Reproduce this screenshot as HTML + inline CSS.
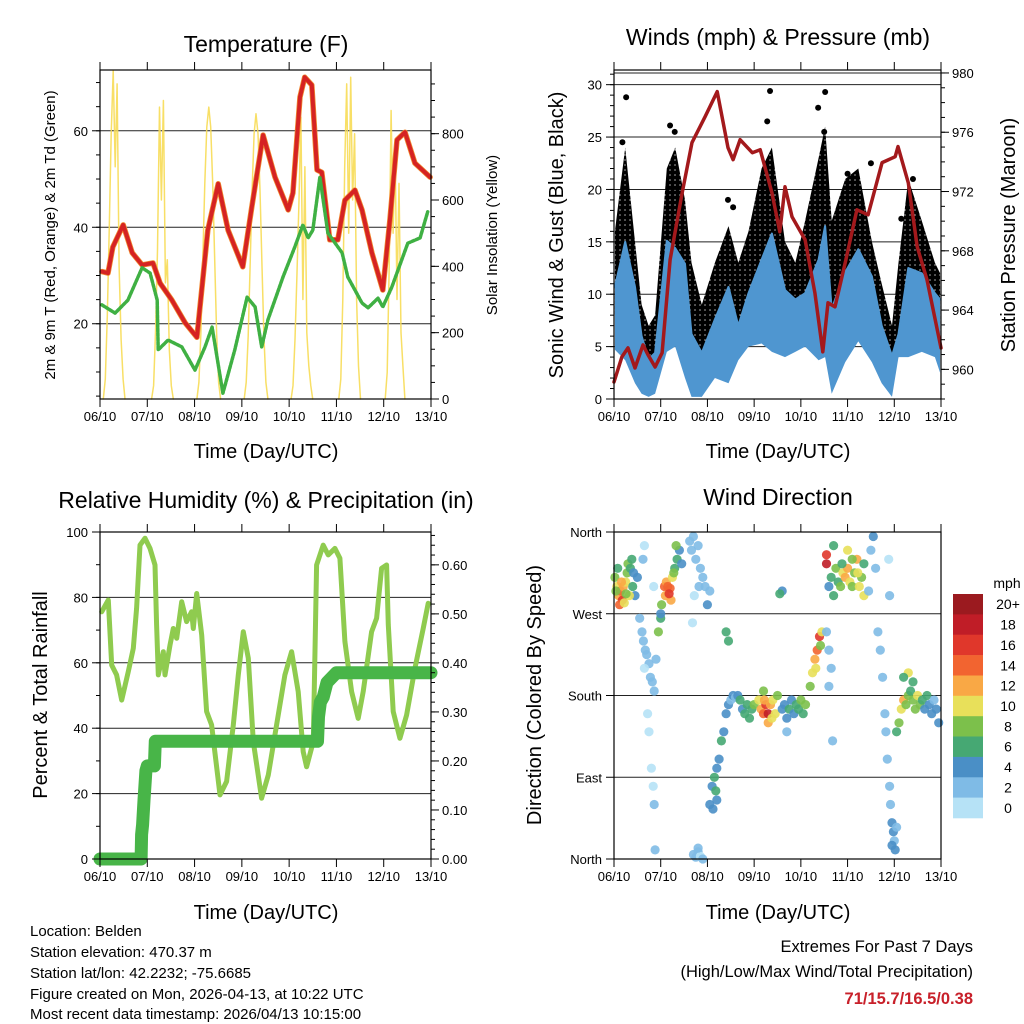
<!DOCTYPE html>
<html><head><meta charset="utf-8"><style>
html,body{margin:0;padding:0;background:#fff;}
svg{display:block;font-family:"Liberation Sans",Arial,sans-serif;}
</style></head><body>
<svg id="chart" xmlns="http://www.w3.org/2000/svg" width="1024" height="1024" viewBox="0 0 1024 1024">
<defs>
<pattern id="gustdots" width="5" height="5" patternUnits="userSpaceOnUse"><circle cx="2.5" cy="2.5" r="3" fill="#000"/></pattern>
</defs>
<g font-size="23" text-anchor="middle" fill="#000">
<text x="266" y="52">Temperature (F)</text>
<text x="778" y="45">Winds (mph) &amp; Pressure (mb)</text>
<text x="266" y="508">Relative Humidity (%) &amp; Precipitation (in)</text>
<text x="778" y="505">Wind Direction</text>
</g>
<g font-size="20" text-anchor="middle" fill="#000">
<text x="266" y="458">Time (Day/UTC)</text>
<text x="778" y="458">Time (Day/UTC)</text>
<text x="266" y="919">Time (Day/UTC)</text>
<text x="778" y="919">Time (Day/UTC)</text>
<text font-size="15" transform="translate(55,235) rotate(-90)">2m &amp; 9m T (Red, Orange) &amp; 2m Td (Green)</text>
<text font-size="15" transform="translate(497,235) rotate(-90)">Solar Insolation (Yellow)</text>
<text transform="translate(563,235) rotate(-90)">Sonic Wind &amp; Gust (Blue, Black)</text>
<text transform="translate(1015,235) rotate(-90)">Station Pressure (Maroon)</text>
<text transform="translate(47,695) rotate(-90)">Percent &amp; Total Rainfall</text>
<text transform="translate(541,695) rotate(-90)">Direction (Colored By Speed)</text>
</g>
<g font-size="15" fill="#000">
<text x="30" y="936">Location: Belden</text>
<text x="30" y="957">Station elevation: 470.37 m</text>
<text x="30" y="978">Station lat/lon: 42.2232; -75.6685</text>
<text x="30" y="999">Figure created on Mon, 2026-04-13, at 10:22 UTC</text>
<text x="30" y="1019">Most recent data timestamp: 2026/04/13 10:15:00</text>
</g>
<g font-size="16.5" text-anchor="end" fill="#000">
<text x="973" y="952">Extremes For Past 7 Days</text>
<text x="973" y="977">(High/Low/Max Wind/Total Precipitation)</text>
<text x="973" y="1004" fill="#c8202a" font-weight="bold">71/15.7/16.5/0.38</text>
</g>
<g id="plots"></g>
</svg>
<script>
// ---------- DATA ----------
const dayLabels = ["06/10","07/10","08/10","09/10","10/10","11/10","12/10","13/10"];
// Temperature (F)
const tempDays = [0.04,0.17,0.27,0.49,0.68,0.89,1.12,1.27,1.52,1.80,2.05,2.28,2.50,2.71,3.02,3.21,3.45,3.70,3.98,4.08,4.23,4.33,4.48,4.59,4.69,4.86,5.03,5.18,5.39,5.54,5.75,5.98,6.13,6.28,6.45,6.66,6.98];
const tempVals = [30.8,30.5,35.9,40.5,34.7,32.2,32.6,28.4,24.9,20.2,17.2,39.4,49.0,39.4,31.8,44.2,59.1,50.4,43.6,47.1,67.0,71.1,69.5,51.9,51.4,37.4,37.4,45.6,47.7,43.6,34.7,27.0,41.5,58.1,59.7,53.3,50.4];
const dewDays = [0.04,0.32,0.59,0.89,1.06,1.21,1.23,1.44,1.73,2.01,2.22,2.37,2.60,2.85,3.11,3.28,3.42,3.55,3.87,4.12,4.29,4.40,4.50,4.65,4.82,5.12,5.24,5.54,5.67,5.88,5.98,6.17,6.51,6.77,6.93];
const dewVals = [23.9,22.2,24.9,31.6,30.5,24.9,14.6,16.6,15.2,10.4,15.2,19.3,5.6,14.6,25.5,23.5,15.2,20.8,29.7,35.9,40.5,37.8,39.4,50.4,38.8,34.7,29.7,24.3,23.3,25.3,23.5,27.6,36.7,37.8,43.2];
const solarPeaks = [0.30,1.32,2.30,3.30,4.27,5.28,6.24];
const solarDay0 = [0,60,250,520,800,990,700,950,400,180,60,0];
const solarDay1 = [0,40,200,450,880,600,900,350,420,150,40,0];
const solarDay2 = [0,50,200,420,650,820,880,820,650,420,200,50,0];
const solarDay3 = [0,50,190,400,630,800,860,800,630,400,190,50,0];
const solarDay4 = [0,40,180,380,600,850,300,700,200,100,40,0];
const solarDay5 = [0,60,300,700,950,500,970,600,800,300,100,0];
const solarDay6 = [0,80,400,870,500,750,300,650,200,100,0];
const tempTicks = [20,40,60];
const solarTicks = [0,200,400,600,800];
// Winds
const windDays = [0.02,0.24,0.45,0.59,0.74,0.88,1.13,1.31,1.52,1.66,1.88,2.16,2.45,2.66,2.88,3.16,3.38,3.66,3.88,4.09,4.38,4.52,4.66,4.95,5.23,5.52,5.73,5.95,6.09,6.30,6.59,6.87,6.98];
const windHi = [10.7,15,10.7,6,3.8,4.4,15.1,14.4,12.9,6.2,4.4,7.6,10.7,7,10.1,13.3,15.8,10.4,9.5,10.1,13.3,16.5,8.6,12.1,14.3,11.7,7,4.1,6.2,12.5,12,10.1,9.5];
const windLo = [4.7,3.7,1.5,0.5,0.2,0.5,4.5,5,2,0.2,0.2,2,1.5,3.7,5,5.3,4.5,4,4.5,5,3.7,4,0.5,3.5,5.5,3.5,1.5,0.2,4,4,4.5,4,2.5];
const gustHi = [16,24,15,9,7,8,22,24,19,13,9,13,16.5,13,16,22,24,15,13,17,23,26,17,21,22,15,11,7,13,21,17,13,12];
const gustLo = [8,11,7,4,3,3,11,12,8,3,2.5,5,7,5,7,10,12,7,6,7,10,11,6,8,10,8,4,2.5,4,9,9,7,6];
const gustOutDays = [0.26,0.18,1.20,1.30,2.44,2.55,3.34,3.28,4.37,4.52,4.50,5.0,5.5,6.15,6.4];
const gustOutVals = [28.8,24.5,26.1,25.5,19.0,18.3,29.4,26.5,27.8,29.3,25.5,21.5,22.5,17.2,21.0];
const presDays = [0,0.17,0.30,0.45,0.62,0.73,0.88,1.03,1.20,1.46,1.67,1.95,2.21,2.44,2.55,2.70,2.96,3.13,3.38,3.55,3.66,3.81,4.09,4.30,4.47,4.58,4.73,4.95,5.20,5.44,5.74,6.02,6.08,6.30,6.49,6.70,7.0];
const presVals = [959.15,960.84,961.45,960.09,961.65,960.97,960.16,961.11,967.39,971.92,975.30,977.05,978.74,974.96,974.15,975.50,974.62,974.82,971.92,969.28,972.32,970.30,968.74,965.16,961.18,964.49,964.22,967.19,970.77,970.43,973.95,974.35,975.03,972.59,968.27,966.04,961.45];
const windTicks = [0,5,10,15,20,25,30];
const presTicks = [960,964,968,972,976,980];
// Humidity & precipitation
const rhDays = [0.035,0.176,0.247,0.352,0.458,0.599,0.705,0.775,0.846,0.951,1.057,1.163,1.198,1.233,1.339,1.374,1.48,1.55,1.621,1.727,1.832,1.938,1.973,2.044,2.15,2.255,2.361,2.537,2.678,2.819,2.925,3.03,3.136,3.242,3.418,3.559,3.735,3.911,4.052,4.192,4.298,4.369,4.51,4.58,4.721,4.827,4.968,5.074,5.18,5.32,5.46,5.567,5.743,5.849,5.955,6.06,6.096,6.2,6.343,6.484,6.66,6.836,6.941];
const rhVals = [75.6,79.2,59.3,56.3,48.6,57.3,64.4,76.7,96.0,98.1,95,89.9,71.6,56.3,63.4,56.3,65.4,70.5,67.5,78.7,72.6,75.6,70.5,81.2,68.5,45.1,41.0,19.6,23.7,41.0,56.3,69.5,61.4,35.9,18.6,25.7,41,56.3,63.4,51.2,32.8,28.2,35.9,89.9,96,93,95,92,66.5,51.2,43,51.2,69.5,73.6,88.9,89.9,71.6,45.1,36.9,44,58.3,70.5,78.2];
const precDays = [0,0.87,0.88,0.90,0.93,0.97,1.0,1.15,1.17,4.60,4.62,4.66,4.72,4.80,5.0,7.0];
const precVals = [0,0,0.05,0.07,0.12,0.18,0.19,0.19,0.24,0.24,0.29,0.32,0.33,0.36,0.38,0.38];
const rhTicks = [0,20,40,60,80,100];
const precTicks = [0,0.1,0.2,0.3,0.4,0.5,0.6];
// Wind direction points [day, direction deg, speed mph]
const dirPoints = [
[0.02,310,8],[0.06,300,10],[0.1,290,12],[0.14,295,14],[0.18,285,16],[0.2,300,12],[0.25,305,10],[0.28,315,9],[0.3,325,8],[0.35,320,6],[0.4,300,6],[0.45,290,4],[0.5,310,4],[0.12,280,14],[0.22,282,11],[0.33,290,10],[0.08,320,7],[0.38,330,7],[0.16,305,13],[0.26,292,9],[0.04,295,9],[0.42,315,5],
[0.55,265,2],[0.6,250,3],[0.63,240,2],[0.67,230,2],[0.7,225,3],[0.75,215,2],[0.78,200,2],[0.82,195,3],[0.86,185,2],[0.65,210,1],[0.72,160,0],[0.75,140,1],[0.8,100,1],[0.84,80,1],[0.86,60,2],[0.88,10,3],[0.62,330,2],[0.65,345,1],[0.85,300,1],[0.9,220,3],
[0.95,250,8],[1.0,265,7],[1.02,280,9],[1.08,300,14],[1.12,305,13],[1.15,300,15],[1.2,298,14],[1.25,310,10],[1.3,320,7],[1.35,330,6],[1.4,340,5],[1.45,325,4],[1.1,290,12],[1.22,285,12],[1.0,270,5],[1.33,345,8],[1.18,292,16],[1.28,315,9],
[1.62,350,3],[1.66,340,2],[1.7,355,2],[1.75,330,3],[1.8,345,2],[1.85,320,2],[1.9,310,3],[1.95,300,2],[2.0,280,4],[1.72,290,1],[1.68,260,1],[2.05,295,3],[1.82,300,2],
[1.7,5,2],[1.75,2,3],[1.8,8,2],[1.85,3,1],[1.9,0,2],[1.8,12,2],
[2.05,60,4],[2.1,80,5],[2.15,90,6],[2.18,75,6],[2.2,100,4],[2.25,110,5],[2.3,130,6],[2.35,140,4],[2.4,160,4],[2.45,170,5],[2.5,175,3],[2.55,180,4],[2.6,178,3],[2.2,65,5],[2.12,55,4],
[2.65,180,4],[2.7,175,6],[2.75,165,4],[2.8,160,6],[2.85,170,7],[2.9,155,6],[2.95,165,6],[3.0,170,8],
[3.1,175,10],[3.15,165,12],[3.2,160,14],[3.25,170,16],[3.3,160,18],[3.35,170,12],[3.4,175,10],[3.45,160,11],[3.5,180,8],[3.2,185,9],[3.3,150,12],[3.22,175,13],[3.38,155,11],
[3.6,165,4],[3.65,170,5],[3.7,155,4],[3.75,165,6],[3.8,175,5],[3.85,160,4],[3.9,170,6],[3.95,165,7],[4.0,175,8],[4.05,160,7],[4.1,170,8],[3.7,140,3],
[4.2,190,8],[4.25,205,10],[4.3,220,12],[4.35,230,14],[4.4,245,16],[4.45,250,10],[4.32,210,11],[4.42,235,9],
[4.55,250,3],[4.6,230,3],[4.65,210,2],[4.6,190,2],[4.68,130,2],[3.6,295,4],[3.55,292,6],[2.45,240,6],[2.4,250,6],
[4.6,300,5],[4.65,310,6],[4.7,290,7],[4.75,320,8],[4.8,305,6],[4.85,300,9],[4.9,315,11],[4.95,310,12],[5.0,320,13],[5.05,305,10],[5.1,300,8],[5.15,315,9],[5.2,330,12],[5.25,300,11],[5.3,310,9],[5.35,325,7],[4.55,335,17],[4.55,325,18],[5.0,340,10],[5.1,330,8],[4.7,345,6],[5.35,290,10],[5.45,295,3],[5.5,340,3],[5.55,355,4],[5.6,320,2],[4.88,325,7],[5.22,315,10],
[5.65,250,2],[5.7,230,2],[5.75,200,2],[5.8,160,2],[5.82,140,3],[5.85,110,2],[5.9,80,2],[5.92,60,3],[5.95,40,4],[5.98,30,4],[6.0,20,3],[6.02,10,4],[5.9,290,2],[5.88,330,1],[5.95,15,5],[6.05,35,2],
[6.05,140,6],[6.1,150,8],[6.15,165,10],[6.2,175,12],[6.25,170,9],[6.3,180,8],[6.35,185,7],[6.4,175,9],[6.45,165,8],[6.5,180,10],[6.55,170,8],[6.6,175,6],[6.65,165,5],[6.7,180,7],[6.75,170,5],[6.8,160,4],[6.85,175,3],[6.9,165,4],[6.95,150,4],[6.3,205,10],[6.4,195,7],[6.2,200,6]
];
const dirTickVals = [0,90,180,270,360];
const dirTickLabels = ["North","East","South","West","North"];
const speedLabels = ["20+","18","16","14","12","10","8","6","4","2","0"];
const speedColors = ["#9b1a1f","#c01d27","#e0372b","#f26430","#f9a845","#e8e05a","#7cc04b","#46a873","#4a8fc6","#7fbbe6","#b6e2f6"];

// ---------- RENDER ----------
const NS = "http://www.w3.org/2000/svg";
const root = document.getElementById('plots');
function el(tag, parent){ const e = document.createElementNS(NS, tag); parent.appendChild(e); return e; }
function lin(d0,d1,r0,r1){ return v => r0 + (v-d0)/(d1-d0)*(r1-r0); }
function pathFrom(xs, ys, fx, fy){ return xs.map((t,i)=>(i?'L':'M')+fx(t).toFixed(1)+','+fy(ys[i]).toFixed(1)).join(''); }

const panels = [
 {name:'temperature', x0:100,x1:431,y0:70,y1:399},
 {name:'winds', x0:614,x1:941,y0:70,y1:399},
 {name:'humidity', x0:100,x1:431,y0:532,y1:859},
 {name:'direction', x0:614,x1:941,y0:532,y1:859}
];
panels.forEach(p=>{
  p.g = el('g', root);
  
  
  p.fx = lin(0,7,p.x0,p.x1);
});

function frame(p){
  const r = el('rect', p.g);
  
  
  r.setAttribute('x', p.x0); r.setAttribute('y', p.y0);
  r.setAttribute('width', p.x1-p.x0); r.setAttribute('height', p.y1-p.y0);
  r.setAttribute('fill','none'); r.setAttribute('stroke','#000'); r.setAttribute('stroke-width','1.2');
  dayLabels.forEach((lab,i)=>{
    const x = p.fx(i);
    [[p.y1,p.y1+8],[p.y0,p.y0-8]].forEach(([a,b])=>{
      const t = el('line', p.g);
      
      
      t.setAttribute('x1',x);t.setAttribute('x2',x);t.setAttribute('y1',a);t.setAttribute('y2',b);
      t.setAttribute('stroke','#000');t.setAttribute('stroke-width','1');
    });
    const tx = el('text', p.g);
    
    
    tx.setAttribute('x',x); tx.setAttribute('y',p.y1+22);
    tx.setAttribute('text-anchor','middle'); tx.setAttribute('font-size','13');
    tx.textContent = lab;
  });
}
function grid(p, vals, fy){
  vals.forEach(v=>{
    const y = fy(v); if (y<=p.y0+1 || y>=p.y1-1) return;
    const l = el('line', p.g);
    
    
    l.setAttribute('x1',p.x0);l.setAttribute('x2',p.x1);l.setAttribute('y1',y);l.setAttribute('y2',y);
    l.setAttribute('stroke','#222');l.setAttribute('stroke-width','1');
  });
}
function yAxis(p, vals, labels, fy, side, minorStep){
  vals.forEach((v,i)=>{
    const y = fy(v);
    const x = side==='left'?p.x0:p.x1;
    const d = side==='left'?-8:8;
    const t = el('line', p.g);
    
    
    t.setAttribute('x1',x);t.setAttribute('x2',x+d);t.setAttribute('y1',y);t.setAttribute('y2',y);
    t.setAttribute('stroke','#000');
    const tx = el('text', p.g);
    
    
    tx.setAttribute('x', side==='left'? x-12 : x+11);
    tx.setAttribute('y', y+5);
    tx.setAttribute('font-size','13');
    tx.setAttribute('text-anchor', side==='left'?'end':'start');
    tx.textContent = labels[i];
  });
  if (minorStep){
    const x = side==='left'?p.x0:p.x1; const d = side==='left'?-4:4;
    for (let v=vals[0]-minorStep*10; v<vals[vals.length-1]+minorStep*10; v+=minorStep){
      const y = fy(v); if (y<p.y0||y>p.y1) continue;
      const t = el('line', p.g);
      
      
      t.setAttribute('x1',x);t.setAttribute('x2',x+d);t.setAttribute('y1',y);t.setAttribute('y2',y);
      t.setAttribute('stroke','#000');
    }
  }
}
function line(p, name, xs, ys, fy, color, w, extra){
  const e = el('path', p.g);
  
  
  e.setAttribute('d', pathFrom(xs, ys, p.fx, fy));
  e.setAttribute('fill','none'); e.setAttribute('stroke',color); e.setAttribute('stroke-width',w);
  e.setAttribute('stroke-linejoin','round'); e.setAttribute('stroke-linecap','round');
  if (extra) for (const k in extra) e.setAttribute(k, extra[k]);
  return e;
}
function band(p, name, xs, hi, lo, fy, fill){
  const top = xs.map((t,i)=>(i?'L':'M')+p.fx(t).toFixed(1)+','+fy(hi[i]).toFixed(1)).join('');
  const bot = xs.slice().reverse().map((t,j)=>{const i=xs.length-1-j; return 'L'+p.fx(t).toFixed(1)+','+fy(lo[i]).toFixed(1);}).join('');
  const e = el('path', p.g);
  
  
  e.setAttribute('d', top+bot+'Z');
  e.setAttribute('fill', fill);
  return e;
}

// Panel 1: temperature
(function(){
  const p = panels[0];
  const fy = lin(4.4,72.6,p.y1,p.y0);
  const fs = lin(0,992,p.y1,p.y0);
  grid(p, tempTicks, fy);
  const solar = [solarDay0,solarDay1,solarDay2,solarDay3,solarDay4,solarDay5,solarDay6];
  solar.forEach((vals,k)=>{
    const c = (vals.length-1)/2;
    const days = vals.map((v,i)=>solarPeaks[k]+(i-c)/24);
    line(p,'solar-insolation-line-day'+k,days,vals,fs,'#f7dc55',1.5,{'stroke-opacity':'0.9'});
  });
  line(p,'temp-9m-orange-line',tempDays,tempVals,fy,'#f08a30',5.5);
  line(p,'temp-2m-red-line',tempDays,tempVals,fy,'#d52323',4);
  line(p,'dewpoint-green-line',dewDays,dewVals,fy,'#3fb043',3.5,{'stroke-dasharray':'3 1.5'});
  yAxis(p, tempTicks, tempTicks.map(String), fy, 'left', 5);
  yAxis(p, solarTicks, solarTicks.map(String), fs, 'right', 50);
  frame(p);
})();

// Panel 2: winds
(function(){
  const p = panels[1];
  const fy = lin(0,31.4,p.y1,p.y0);
  const fp = lin(958,980.2,p.y1,p.y0);
  grid(p, windTicks, fy);
  const gl = el('line', p.g);
  
  
  gl.setAttribute('x1',p.x0);gl.setAttribute('x2',p.x1);gl.setAttribute('y1',fp(980));gl.setAttribute('y2',fp(980));gl.setAttribute('stroke','#222');
  band(p,'gust-dots-band',windDays,gustHi,gustLo,fy,'url(#gustdots)');
  gustOutDays.forEach((t,i)=>{
    const c = el('circle', p.g);
    
    
    c.setAttribute('cx',p.fx(t)); c.setAttribute('cy',fy(gustOutVals[i])); c.setAttribute('r','3'); c.setAttribute('fill','#000');
  });
  band(p,'sonic-wind-band',windDays,windHi,windLo,fy,'#4f96d0');
  line(p,'sonic-wind-edge',windDays,windHi,fy,'#4f96d0',2);
  line(p,'station-pressure-line',presDays,presVals,fp,'#a3191c',3.5);
  yAxis(p, windTicks, windTicks.map(String), fy, 'left', 1);
  yAxis(p, presTicks, presTicks.map(String), fp, 'right', 1);
  frame(p);
})();

// Panel 3: humidity
(function(){
  const p = panels[2];
  const fy = lin(0,100,p.y1,p.y0);
  const fr = lin(0,0.667,p.y1,p.y0);
  grid(p, rhTicks, fy);
  line(p,'relative-humidity-line',rhDays,rhVals,fy,'#8fcb4f',5);
  line(p,'total-rainfall-line',precDays,precVals,fr,'#48b548',13);
  yAxis(p, rhTicks, rhTicks.map(String), fy, 'left', 10);
  yAxis(p, precTicks, precTicks.map(v=>v.toFixed(2)), fr, 'right', 0.02);
  frame(p);
})();

// Panel 4: wind direction
(function(){
  const p = panels[3];
  const fy = lin(0,360,p.y1,p.y0);
  grid(p, dirTickVals, fy);
  function colorFor(s){ const b = Math.min(10, Math.floor(s/2)); return speedColors[10-b]; }
  dirPoints.forEach(d=>{
    const c = el('circle', p.g);
    
    
    c.setAttribute('cx',p.fx(d[0]).toFixed(1)); c.setAttribute('cy',fy(d[1]).toFixed(1));
    c.setAttribute('r','4.6'); c.setAttribute('fill',colorFor(d[2])); c.setAttribute('fill-opacity','0.9');
  });
  yAxis(p, dirTickVals, dirTickLabels, fy, 'left', 0);
  frame(p);
  const cb = el('g', root);
  
  
  const unit = el('text', cb);
  
  
  unit.setAttribute('x','1007'); unit.setAttribute('y','588'); unit.setAttribute('font-size','14'); unit.setAttribute('text-anchor','middle');
  unit.textContent = 'mph';
  const h = (818-594)/speedLabels.length;
  speedLabels.forEach((lab,i)=>{
    const r = el('rect', cb);
    
    
    r.setAttribute('x','953'); r.setAttribute('y',(594+i*h).toFixed(1)); r.setAttribute('width','30'); r.setAttribute('height',(h+0.3).toFixed(1));
    r.setAttribute('fill',speedColors[i]);
    const t = el('text', cb);
    
    
    t.setAttribute('x','1008'); t.setAttribute('y',(594+i*h+h/2+5).toFixed(1)); t.setAttribute('font-size','14'); t.setAttribute('text-anchor','middle');
    t.textContent = lab;
  });
})();
</script>
</body></html>
